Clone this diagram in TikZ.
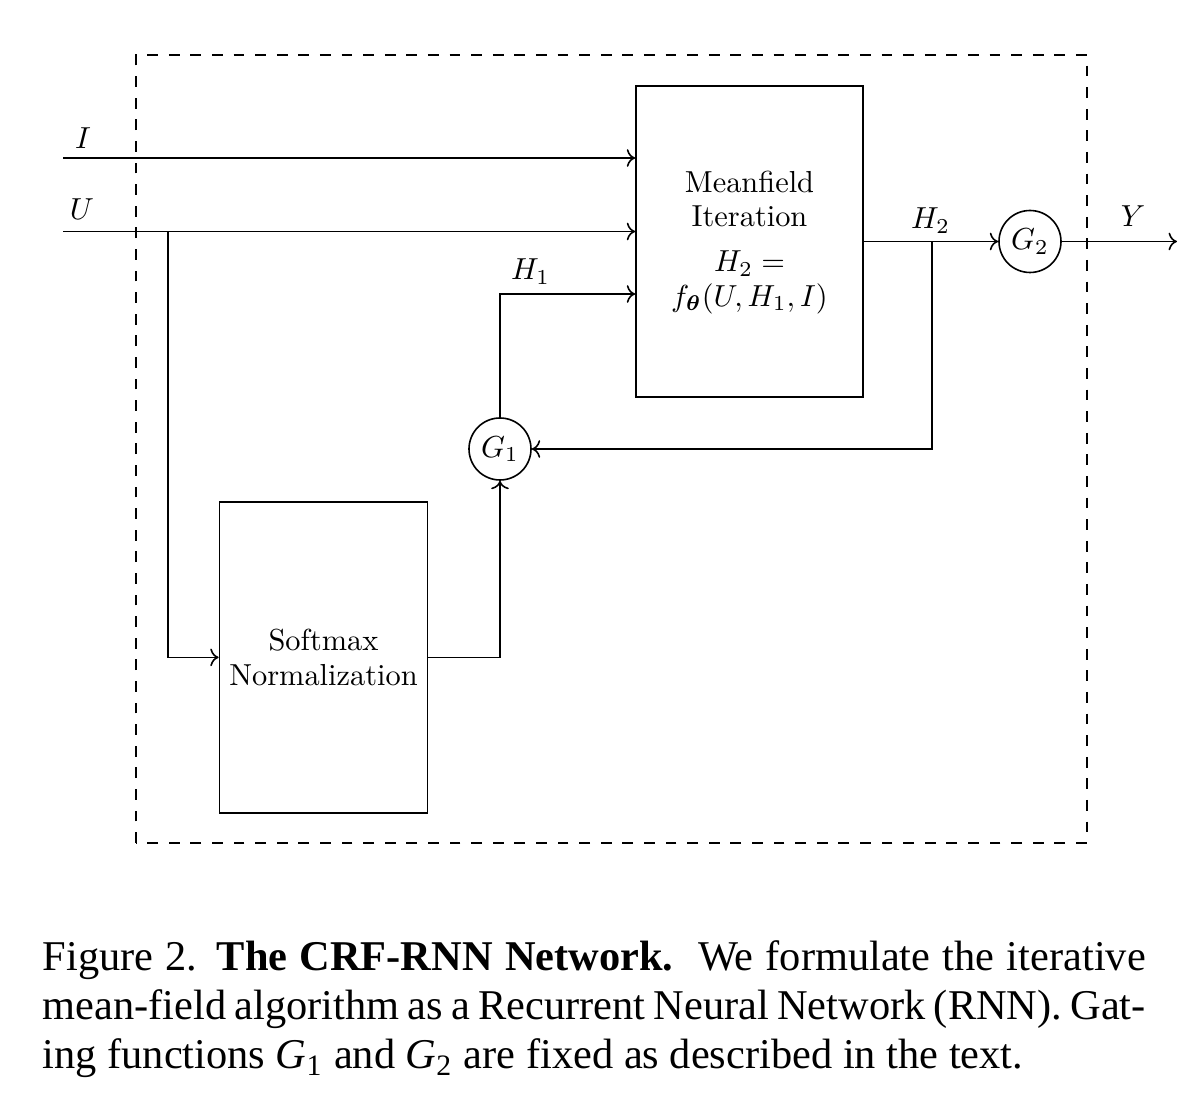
\documentclass[tikz,border=0pt]{standalone}
\usepackage{graphicx}
\usepackage{amsmath,bm}
\usepackage{fontspec}
\newfontfamily\capfont{Liberation Serif}
\newcommand\diagfont{\fontsize{10}{11.3}\selectfont}
\newcommand\capsize{\fontsize{10.6}{12.5}\selectfont}
\newcommand\sbx[1]{\scalebox{0.76}{#1}}
\newcommand\stk[1]{\sbx{\begin{tabular}{@{}c@{}}#1\end{tabular}}}
\usetikzlibrary{arrows.meta}
\begin{document}
\begin{tikzpicture}[x=0.25pt,y=-0.25pt,line width=0.4pt,
  >={To[scale=0.85]},
  every node/.style={font=\diagfont},
  blockbox/.style={draw,rectangle,inner sep=0pt,align=center},
  gatecirc/.style={draw,circle,minimum size=15.5pt,inner sep=0pt},
  lbl/.style={anchor=base,inner sep=0pt},
  conn/.style={->},
  capline/.style={anchor=base west,inner sep=0pt,font=\capfont\capsize}]
\useasboundingbox (0,0) rectangle (1192,1100);
% dashed frame
\draw[dash pattern=on 2.7pt off 2.7pt] (136,843) -- (136,55) -- (1087,55) -- (1087,843) -- cycle;
% blocks
\node[blockbox,minimum width=56.75pt,minimum height=77.75pt] (mf) at (749.5,241.5)
  {\raisebox{-0.2pt}[\height][\depth]{\stk{Meanfield\\Iteration\\[3.5pt]$H_2 =$\\$f_{\bm{\theta}}(U,H_1,I)$}}};
\node[blockbox,minimum width=52pt,minimum height=77.8pt] (sm) at (323.5,657.4)
  {\raisebox{-0.9pt}[\height][\depth]{\stk{Softmax\\Normalization}}};
\node[gatecirc] (g1) at (500,449) {\sbx{$G_1$}};
\node[gatecirc] (g2) at (1030,241.5) {\sbx{$G_2$}};
% labels
\node[lbl] (lI) at (83,148.5) {\sbx{$I$}};
\node[lbl] (lU) at (82,219.5) {\sbx{$U$}};
\node[lbl] (lH1) at (530.5,280) {\sbx{$H_1$}};
\node[lbl] (lH2) at (930.5,228.5) {\sbx{$H_2$}};
\node[lbl] (lY) at (1133,227) {\sbx{$Y$}};
% coordinates
\coordinate (Iin) at (63,158);
\coordinate (Uin) at (63,231.5);
\coordinate (Ubr) at (167.7,231.5);
\coordinate (h1c) at (500,294);
\coordinate (h2br) at (932,241.5);
\coordinate (Yout) at (1177,241.5);
% connectors
\draw[conn] (Iin) -- (Iin -| mf.west);
\draw[conn] (Uin) -- (Uin -| mf.west);
\draw[conn] (Ubr) |- (sm.west);
\draw[conn] (sm.east) -| (g1.south);
\draw[conn] (g1.north) -- (h1c) -- (h1c -| mf.west);
\draw[conn] (mf.east) -- (g2.west);
\draw[conn] (h2br) |- (g1.east);
\draw[conn] (g2.east) -- (Yout);
% caption
\node[capline] (cap1) at (42,970.5) {\makebox[275.75pt][s]{Figure 2. \textbf{The CRF-RNN Network.}\ \ We formulate the iterative}};
\node[capline] (cap2) at (42,1020) {\makebox[275.75pt][s]{mean-field algorithm as a Recurrent Neural Network (RNN). Gat-}};
\node[capline] (cap3) at (42,1069) {ing functions \textit{G}\textsubscript{1} and \textit{G}\textsubscript{2} are fixed as described in the text.};
\end{tikzpicture}
\end{document}
